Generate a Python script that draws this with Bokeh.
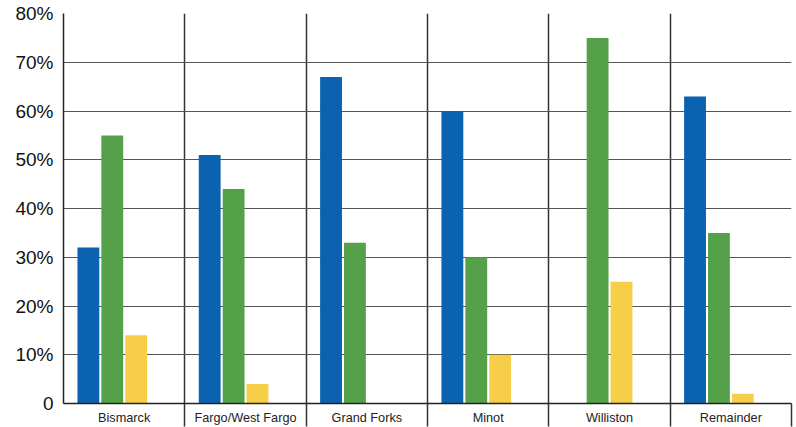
from bokeh.plotting import figure
from bokeh.models import Range1d, FixedTicker, ColumnDataSource
from bokeh.embed import file_html
from bokeh.resources import INLINE

# Share of respondents by region, three series
categories = ["Bismarck", "Fargo/West Fargo", "Grand Forks", "Minot", "Williston", "Remainder"]
series_blue = [0.32, 0.51, 0.67, 0.60, 0.0, 0.63]
series_green = [0.55, 0.44, 0.33, 0.30, 0.75, 0.35]
series_yellow = [0.14, 0.04, 0.0, 0.10, 0.25, 0.02]
y_ticks = [0.0, 0.1, 0.2, 0.3, 0.4, 0.5, 0.6, 0.7, 0.8]
y_tick_labels = ["0", "10%", "20%", "30%", "40%", "50%", "60%", "70%", "80%"]

colors = ["#0A62B0", "#55A14A", "#F6CE48"]
offsets = [-0.295, -0.098, 0.099]
bar_width = 0.18

p = figure(width=796, height=427, output_backend="svg", toolbar_location=None,
           x_range=Range1d(0, len(categories)), y_range=Range1d(0, 0.8),
           min_border_left=63, min_border_right=5, min_border_top=13, min_border_bottom=23)
p.outline_line_color = None
p.background_fill_color = "white"
p.border_fill_color = "white"

for vals, col, off in zip([series_blue, series_green, series_yellow], colors, offsets):
    src = ColumnDataSource(dict(x=[i + 0.5 + off for i in range(len(categories))], top=vals))
    p.vbar(x="x", top="top", width=bar_width, bottom=0, source=src,
           fill_color=col, line_color=None)

# x axis: labels centred in each region, separators as long minor ticks
xa = p.xaxis[0]
centers = [i + 0.5 for i in range(len(categories))]
xa.ticker = FixedTicker(ticks=centers, minor_ticks=list(range(1, len(categories) + 1)))
xa.major_label_overrides = {c: name for c, name in zip(centers, categories)}
xa.major_tick_line_color = None
xa.major_tick_out = 0
xa.minor_tick_out = 23
xa.minor_tick_in = 0
xa.minor_tick_line_color = "#333333"
xa.minor_tick_line_width = 1.5
xa.axis_line_color = "#222222"
xa.axis_line_width = 1.5
xa.major_label_text_font = "Liberation Sans"
xa.major_label_text_font_size = "12.7px"
xa.major_label_text_color = "#222222"
xa.major_label_standoff = -16

ya = p.yaxis[0]
ya.ticker = FixedTicker(ticks=y_ticks)
ya.major_label_overrides = {t: lab for t, lab in zip(y_ticks, y_tick_labels)}
ya.major_tick_line_color = None
ya.major_tick_out = 0
ya.minor_tick_line_color = None
ya.axis_line_color = "#222222"
ya.axis_line_width = 1.5
ya.major_label_text_font = "Liberation Sans"
ya.major_label_text_font_size = "19px"
ya.major_label_text_color = "#111111"
ya.major_label_standoff = 10

p.ygrid.ticker = FixedTicker(ticks=y_ticks[1:-1])
p.ygrid.grid_line_color = "#555555"
p.ygrid.grid_line_width = 1
p.xgrid.ticker = FixedTicker(ticks=list(range(1, len(categories) + 1)))
p.xgrid.grid_line_color = "#333333"
p.xgrid.grid_line_width = 1.5

open("out.html", "w").write(file_html(p, INLINE))
